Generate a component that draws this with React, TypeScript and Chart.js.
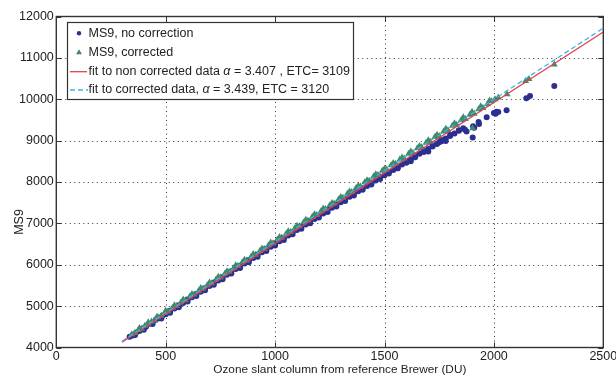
import React, { useEffect, useRef } from "react";
import { Chart, registerables } from "chart.js";

Chart.register(...registerables);

// Axis limits / ticks
const xLimits = [0, 2500];
const yLimits = [4000, 12000];
const xStep = 500;
const yStep = 1000;

// MS9, no correction (x: Brewer ozone slant column DU, y: MS9)
const noCorrX = [
  335, 350, 365, 380, 395, 410, 425, 440, 455, 470, 485, 500, 520, 540, 560, 580, 600, 620, 640, 660,
  680, 700, 720, 740, 760, 780, 800, 820, 840, 860, 880, 900, 920, 940, 960, 980, 1000, 1020, 1040, 1060,
  1080, 1100, 1120, 1140, 1160, 1180, 1200, 1220, 1240, 1260, 1280, 1300, 1320, 1340, 1360, 1380, 1400, 1420, 1440, 1460,
  1480, 1500, 1520, 1540, 1560, 1580, 1600, 1620, 1640, 1660, 1680, 1700, 1720, 1740, 1760, 1780, 1800, 1820, 1840, 1860,
  1700, 1620, 1560, 1780, 1750, 1868, 1875, 1903, 1905, 1910, 1930, 1932, 1967, 2000, 2008, 2012, 2020, 2058, 2148, 2165, 2276,
  360, 400, 440, 480, 520, 560, 600, 640, 680, 720, 760, 800, 840, 880, 920, 960, 1000, 1040, 1080, 1120,
  1160, 1200, 1240, 1280, 1320, 1360, 1400, 1440, 1480, 1520, 1560, 1600, 1640, 1680, 1720, 1760, 1800, 1840,
];
const noCorrY = [
  4262, 4290, 4360, 4398, 4462, 4500, 4566, 4602, 4668, 4705, 4770, 4806, 4888, 4940, 5022, 5078, 5160, 5214, 5296, 5350,
  5432, 5486, 5570, 5622, 5705, 5758, 5840, 5895, 5976, 6030, 6112, 6165, 6248, 6300, 6385, 6436, 6520, 6570, 6655, 6705,
  6790, 6838, 6926, 6975, 7060, 7108, 7192, 7240, 7328, 7375, 7460, 7510, 7590, 7642, 7730, 7775, 7850, 7905, 7990, 8035,
  8120, 8165, 8250, 8290, 8380, 8420, 8505, 8550, 8630, 8680, 8760, 8800, 8890, 8920, 9020, 9050, 9140, 9175, 9250, 9300,
  8740, 8500, 8330, 8990, 8960, 9260, 9220, 9075, 9350, 9310, 9450, 9400, 9565, 9670, 9650, 9700, 9690, 9735, 10025, 10080, 10320,
  4300, 4432, 4566, 4702, 4838, 4974, 5110, 5245, 5382, 5518, 5652, 5788, 5924, 6060, 6195, 6330, 6466, 6600, 6736, 6870,
  7005, 7140, 7275, 7410, 7542, 7676, 7810, 7942, 8075, 8205, 8335, 8468, 8598, 8728, 8855, 8985, 9110, 9240,
];

// MS9, corrected
const corrX = [
  345, 360, 375, 390, 405, 420, 435, 450, 465, 480, 495, 510, 530, 550, 570, 590, 610, 630, 650, 670,
  690, 710, 730, 750, 770, 790, 810, 830, 850, 870, 890, 910, 930, 950, 970, 990, 1010, 1030, 1050, 1070,
  1090, 1110, 1130, 1150, 1170, 1190, 1210, 1230, 1250, 1270, 1290, 1310, 1330, 1350, 1370, 1390, 1410, 1430, 1450, 1470,
  1490, 1510, 1530, 1550, 1570, 1590, 1610, 1630, 1650, 1670, 1690, 1710, 1730, 1750, 1770, 1790, 1810, 1830, 1850, 1870,
  1890, 1910, 1930, 1950, 1970, 1990, 2005, 2020, 2060, 2145, 2160, 2276, 1903,
  380, 420, 460, 500, 540, 580, 620, 660, 700, 740, 780, 820, 860, 900, 940, 980, 1020, 1060, 1100, 1140,
  1180, 1220, 1260, 1300, 1340, 1380, 1420, 1460, 1500, 1540, 1580, 1620, 1660, 1700, 1740, 1780, 1820, 1860, 1900, 1940, 1980,
];
const corrY = [
  4320, 4350, 4420, 4455, 4525, 4558, 4628, 4660, 4730, 4765, 4835, 4868, 4955, 5005, 5092, 5142, 5230, 5280, 5368, 5418,
  5505, 5555, 5645, 5692, 5780, 5830, 5918, 5968, 6058, 6105, 6195, 6242, 6332, 6380, 6470, 6518, 6608, 6655, 6745, 6792,
  6885, 6930, 7022, 7068, 7162, 7205, 7300, 7345, 7440, 7482, 7578, 7618, 7715, 7758, 7855, 7892, 7995, 8030, 8132, 8168,
  8270, 8300, 8405, 8440, 8545, 8570, 8680, 8705, 8815, 8840, 8950, 8975, 9085, 9110, 9220, 9250, 9360, 9385, 9490, 9520,
  9625, 9650, 9760, 9790, 9880, 9950, 10000, 10040, 10120, 10440, 10490, 10840, 9300,
  4470, 4612, 4745, 4888, 5020, 5162, 5295, 5438, 5570, 5712, 5845, 5988, 6120, 6262, 6395, 6538, 6670, 6812, 6945, 7088,
  7220, 7362, 7495, 7638, 7770, 7912, 8045, 8188, 8320, 8462, 8595, 8738, 8870, 9012, 9145, 9288, 9420, 9562, 9695, 9830, 9970,
];

// Fit lines (end points)
const fitNonCorrX = [300, 2500];
const fitNonCorrY = [4131, 11627];
const fitCorrX = [300, 2500];
const fitCorrY = [4152, 11718];

const legendLabels = [
  ["MS9, no correction"],
  ["MS9, corrected"],
  ["fit to non corrected data ", "α", " = 3.407 , ETC= 3109"],
  ["fit to corrected data, ", "α", " = 3.439, ETC = 3120"],
];
const xTitle = "Ozone slant column from reference Brewer (DU)";
const yTitle = "MS9";

const BLUE = "#2b2f92";
const GREEN = "#3f8a6c";
const RED = "#e0424c";
const CYAN = "#3fb2e2";
const FONT = '"Liberation Sans", Arial, Helvetica, sans-serif';
const TEXT = "#222";

const zip = (xs: number[], ys: number[]) => xs.map((x, i) => ({ x, y: ys[i] }));

const framePlugin = {
  id: "frame",
  beforeDatasetsDraw(chart: any) {
    const { ctx, chartArea, scales } = chart;
    const { left, right, top, bottom } = chartArea;
    const xs = scales.x;
    const ys = scales.y;
    ctx.save();
    ctx.strokeStyle = "#333";
    ctx.lineWidth = 1;
    ctx.setLineDash([1, 3.5]);
    xs.ticks.forEach((t: any) => {
      if (t.value <= xs.min || t.value >= xs.max) return;
      const px = Math.round(xs.getPixelForValue(t.value)) + 0.5;
      ctx.beginPath();
      ctx.moveTo(px, top);
      ctx.lineTo(px, bottom);
      ctx.stroke();
    });
    ys.ticks.forEach((t: any) => {
      if (t.value <= ys.min || t.value >= ys.max) return;
      const py = Math.round(ys.getPixelForValue(t.value)) + 0.5;
      ctx.beginPath();
      ctx.moveTo(left, py);
      ctx.lineTo(right, py);
      ctx.stroke();
    });
    ctx.restore();
  },
  afterDraw(chart: any) {
    const { ctx, chartArea, scales } = chart;
    const { left, right, top, bottom } = chartArea;
    const xs = scales.x;
    const ys = scales.y;
    ctx.save();
    ctx.strokeStyle = "#333";
    ctx.lineWidth = 1;
    ctx.setLineDash([]);
    const tl = 5;
    xs.ticks.forEach((t: any) => {
      const px = Math.round(xs.getPixelForValue(t.value)) + 0.5;
      ctx.beginPath();
      ctx.moveTo(px, bottom);
      ctx.lineTo(px, bottom - tl);
      ctx.moveTo(px, top);
      ctx.lineTo(px, top + tl);
      ctx.stroke();
    });
    ys.ticks.forEach((t: any) => {
      const py = Math.round(ys.getPixelForValue(t.value)) + 0.5;
      ctx.beginPath();
      ctx.moveTo(left, py);
      ctx.lineTo(left + tl, py);
      ctx.moveTo(right, py);
      ctx.lineTo(right - tl, py);
      ctx.stroke();
    });
    ctx.lineWidth = 1.4;
    ctx.strokeStyle = "#333";
    ctx.strokeRect(left, top, right - left, bottom - top);

    // legend
    const lx = 67.5, ly = 22.5, lw = 286, lh = 77;
    ctx.fillStyle = "#fff";
    ctx.fillRect(lx, ly, lw, lh);
    ctx.lineWidth = 1.2;
    ctx.strokeStyle = "#333";
    ctx.strokeRect(lx, ly, lw, lh);
    const rows = [33.3, 52.3, 71.7, 90];
    const mx = 79;
    ctx.fillStyle = BLUE;
    ctx.beginPath();
    ctx.arc(mx, rows[0], 2.2, 0, Math.PI * 2);
    ctx.fill();
    ctx.fillStyle = GREEN;
    ctx.beginPath();
    ctx.moveTo(mx, rows[1] - 3);
    ctx.lineTo(mx + 3, rows[1] + 2);
    ctx.lineTo(mx - 3, rows[1] + 2);
    ctx.closePath();
    ctx.fill();
    ctx.strokeStyle = RED;
    ctx.lineWidth = 1.3;
    ctx.beginPath();
    ctx.moveTo(70, rows[2]);
    ctx.lineTo(87, rows[2]);
    ctx.stroke();
    ctx.strokeStyle = CYAN;
    ctx.setLineDash([5, 3]);
    ctx.beginPath();
    ctx.moveTo(70, rows[3]);
    ctx.lineTo(88, rows[3]);
    ctx.stroke();
    ctx.setLineDash([]);

    ctx.fillStyle = TEXT;
    ctx.textBaseline = "middle";
    ctx.textAlign = "left";
    legendLabels.forEach((parts, i) => {
      let x = 88.5;
      parts.forEach((p, j) => {
        ctx.font = (j === 1 ? "italic " : "") + "12.5px " + FONT;
        ctx.fillText(p, x, rows[i]);
        x += ctx.measureText(p).width;
      });
    });

    // axis titles
    ctx.font = "11.8px " + FONT;
    ctx.textAlign = "center";
    ctx.textBaseline = "middle";
    ctx.fillText(xTitle, (left + right) / 2 + 10, 370);
    ctx.font = "12.5px " + FONT;
    ctx.translate(20, 222);
    ctx.rotate(-Math.PI / 2);
    ctx.fillText(yTitle, 0, 0);
    ctx.restore();
  },
};

export default function App() {
  const ref = useRef<HTMLCanvasElement>(null);
  useEffect(() => {
    const canvas = ref.current;
    if (!canvas) return;
    const chart = new Chart(canvas, {
      type: "scatter",
      data: {
        datasets: [
          {
            label: "fit to non corrected data",
            data: zip(fitNonCorrX, fitNonCorrY),
            showLine: true,
            borderColor: RED,
            borderWidth: 1.3,
            pointRadius: 0,
            order: 1,
          },
          {
            label: "fit to corrected data",
            data: zip(fitCorrX, fitCorrY),
            showLine: true,
            borderColor: CYAN,
            borderWidth: 1.3,
            borderDash: [5, 3],
            pointRadius: 0,
            order: 0,
          },
          {
            label: "MS9, corrected",
            data: zip(corrX, corrY),
            pointStyle: "triangle",
            pointRadius: 4,
            backgroundColor: GREEN,
            borderColor: GREEN,
            borderWidth: 0,
            order: 2,
          },
          {
            label: "MS9, no correction",
            data: zip(noCorrX, noCorrY),
            pointStyle: "circle",
            pointRadius: 3,
            backgroundColor: BLUE,
            borderColor: BLUE,
            borderWidth: 0,
            order: 3,
          },
        ],
      },
      options: {
        animation: false,
        responsive: true,
        maintainAspectRatio: false,
        layout: { padding: { left: 0, top: 16.5, right: 12.7, bottom: 0 } },
        plugins: { legend: { display: false }, tooltip: { enabled: false } },
        scales: {
          x: {
            type: "linear",
            min: xLimits[0],
            max: xLimits[1],
            grid: { display: false, drawTicks: false },
            border: { display: false },
            ticks: {
              stepSize: xStep,
              padding: 2,
              color: TEXT,
              font: { family: FONT, size: 12.5 },
              callback: (v: any) => String(v),
            },
            afterFit(scale: any) {
              scale.height = 28.5;
              scale.paddingLeft = 0;
              scale.paddingRight = 0;
            },
          },
          y: {
            type: "linear",
            min: yLimits[0],
            max: yLimits[1],
            grid: { display: false, drawTicks: false },
            border: { display: false },
            ticks: {
              stepSize: yStep,
              padding: 2.5,
              color: TEXT,
              font: { family: FONT, size: 12.5 },
              callback: (v: any) => String(v),
            },
            afterFit(scale: any) {
              scale.width = 56.3;
              scale.paddingTop = 0;
              scale.paddingBottom = 0;
            },
          },
        },
      },
      plugins: [framePlugin],
    } as any);
    return () => chart.destroy();
  }, []);
  return (
    <div style={{ position: "fixed", left: 0, top: 0, width: 616, height: 376, background: "#fff" }}>
      <canvas ref={ref} />
    </div>
  );
}
